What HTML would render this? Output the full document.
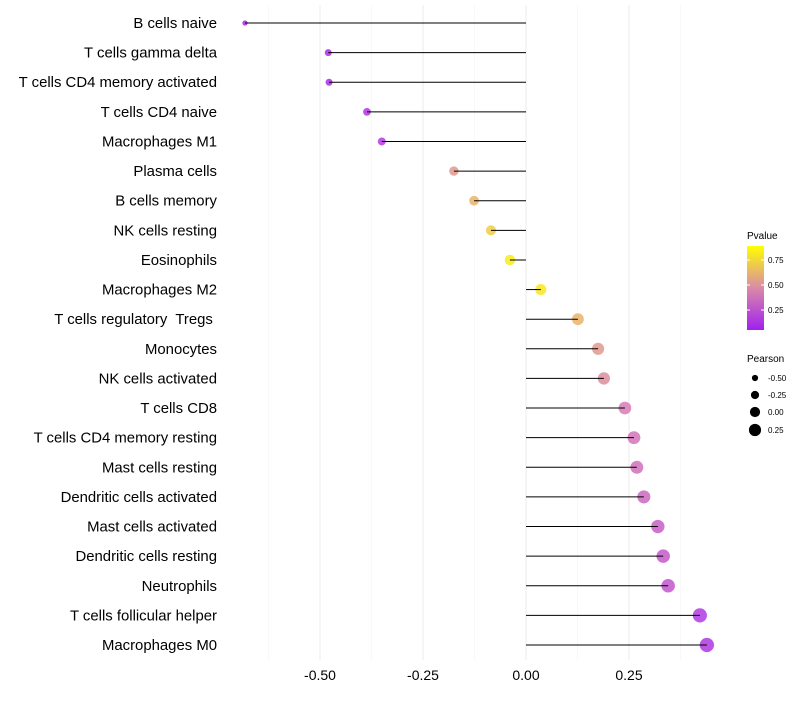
<!DOCTYPE html>
<html><head><meta charset="utf-8"><style>
body{margin:0;background:#fff;font-family:"Liberation Sans",sans-serif}
</style></head><body>
<svg id="c" width="800" height="700" xmlns="http://www.w3.org/2000/svg">
<defs><linearGradient id="pg" x1="0" y1="1" x2="0" y2="0">
<stop offset="0" stop-color="#a020f0"/><stop offset="0.5" stop-color="#d98aa8"/><stop offset="1" stop-color="#ffff00"/>
</linearGradient></defs>
<g id="grid"></g><g id="marks"></g><g id="ylab"></g><g id="xlab"></g><g id="legend"></g>
</svg>
<script>
const categories=["B cells naive","T cells gamma delta","T cells CD4 memory activated","T cells CD4 naive","Macrophages M1","Plasma cells","B cells memory","NK cells resting","Eosinophils","Macrophages M2","T cells regulatory  Tregs ","Monocytes","NK cells activated","T cells CD8","T cells CD4 memory resting","Mast cells resting","Dendritic cells activated","Mast cells activated","Dendritic cells resting","Neutrophils","T cells follicular helper","Macrophages M0"];
const pearson=[-0.682,-0.48,-0.478,-0.386,-0.35,-0.175,-0.126,-0.085,-0.039,0.036,0.126,0.175,0.189,0.24,0.262,0.269,0.286,0.32,0.333,0.345,0.422,0.439];
const pvalue=[0.0,0.03,0.03,0.08,0.11,0.6,0.7,0.8,0.92,0.9,0.7,0.6,0.55,0.47,0.43,0.41,0.36,0.31,0.28,0.26,0.1,0.08];
const xTicks=[-0.5,-0.25,0,0.25];
const xTickLabels=["-0.50","-0.25","0.00","0.25"];
const NS="http://www.w3.org/2000/svg";
const x=v=>526+v*412;
const y=i=>23+i*(622/21);
const rad=v=>5.4+4*v;
function mk(t,a,p){const e=document.createElementNS(NS,t);for(const k in a)e.setAttribute(k,a[k]);p.appendChild(e);return e;}
function lerp(a,b,t){return a.map((v,i)=>Math.round(v+(b[i]-v)*t));}
function col(p){const s0=[168,40,236],s1=[218,128,176],s2=[255,255,0];const c=p<0.5?lerp(s0,s1,p/0.5):lerp(s1,s2,(p-0.5)/0.5);return `rgb(${c.join(',')})`;}
const G=document.getElementById('grid'),M=document.getElementById('marks'),YL=document.getElementById('ylab'),XL=document.getElementById('xlab'),L=document.getElementById('legend');
[-0.625,-0.375,-0.125,0.125,0.375].forEach(v=>{const l=mk('line',{x1:x(v),x2:x(v),y1:5,y2:660,stroke:'#f4f4f4','stroke-width':0.6},G);

});
xTicks.forEach((v,i)=>{const l=mk('line',{x1:x(v),x2:x(v),y1:5,y2:660,stroke:'#ebebeb','stroke-width':1},G);


const t=mk('text',{x:x(v),y:680,'text-anchor':'middle','font-size':14,fill:'#000'},XL);t.textContent=xTickLabels[i];

});
categories.forEach((c,i)=>{
const t=mk('text',{x:217,y:y(i)+5,'text-anchor':'end','font-size':14.9,fill:'#000','xml:space':'preserve'},YL);t.textContent=c;t.style.whiteSpace='pre';


const d=mk('circle',{cx:x(pearson[i]),cy:y(i),r:rad(pearson[i]),fill:col(pvalue[i]),'fill-opacity':0.85},M);


const s=mk('line',{x1:x(0),x2:x(pearson[i]),y1:y(i),y2:y(i),stroke:'#000','stroke-width':1},M);


});
let t=mk('text',{x:747,y:239,'font-size':10},L);t.textContent='Pvalue';


const r=mk('rect',{x:747,y:246,width:17,height:84,fill:'url(#pg)'},L);


[[0.75,260],[0.50,285],[0.25,310]].forEach(a=>{
mk('line',{x1:747,x2:750,y1:a[1],y2:a[1],stroke:'#fff'},L);mk('line',{x1:761,x2:764,y1:a[1],y2:a[1],stroke:'#fff'},L);
const tt=mk('text',{x:768,y:a[1]+3,'font-size':8},L);tt.textContent=a[0].toFixed(2);

});
t=mk('text',{x:747,y:362,'font-size':10},L);t.textContent='Pearson';


[[-0.5,378],[-0.25,395],[0,412],[0.25,430]].forEach(a=>{
const c=mk('circle',{cx:755,cy:a[1],r:rad(a[0])-0.3,fill:'#000'},L);


const tt=mk('text',{x:768,y:a[1]+3,'font-size':8},L);tt.textContent=a[0].toFixed(2);

});
</script>
</body></html>
